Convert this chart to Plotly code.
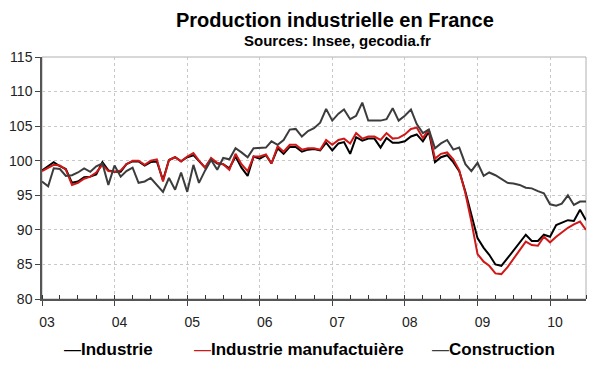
import plotly.graph_objects as go
import pandas as pd

# Monthly index values, Jan 2003 - Jul 2010
months = pd.date_range("2003-01-01", "2010-07-01", freq="MS")

industrie = [
    98.6, 99.3, 99.8, 99.2, 98.8, 96.8, 97.0, 97.6, 97.7, 98.0, 99.8, 98.6,
    98.4, 98.4, 99.5, 99.9, 99.9, 99.3, 99.8, 99.9, 97.2, 100.1, 100.5, 99.9,
    100.5, 100.8, 100.0, 99.0, 100.3, 99.6, 99.5, 98.9, 100.6, 99.0, 97.8, 100.6,
    100.3, 100.8, 99.6, 101.8, 101.0, 102.0, 102.0, 101.3, 101.6, 101.7, 101.5, 102.6,
    101.5, 102.5, 102.7, 101.0, 103.4, 102.9, 103.2, 103.2, 101.9, 103.3, 102.6, 102.6,
    102.8, 103.5, 103.8, 102.8, 104.2, 99.8, 100.5, 100.8, 99.8, 98.5, 95.5, 92.0,
    88.8, 87.4, 86.4, 85.0, 84.8, 85.9, 87.0, 88.3, 89.3, 88.4, 88.4, 89.3,
    89.0, 90.7, 91.0, 91.4, 91.3, 92.9, 91.4,
]

manufacturiere = [
    98.5, 99.0, 99.4, 99.3, 98.7, 96.5, 96.8, 97.4, 97.7, 98.3, 99.4, 98.5,
    98.4, 98.6, 99.5, 100.0, 100.0, 99.4, 100.0, 100.2, 97.0, 100.1, 100.5, 99.9,
    100.6, 101.1, 100.0, 99.0, 100.4, 99.7, 99.5, 98.7, 101.0, 99.5, 98.5, 100.6,
    100.6, 100.9, 99.6, 102.1, 101.3, 102.3, 102.3, 101.6, 101.8, 101.8, 101.6, 103.0,
    102.3, 103.0, 103.2, 102.5, 104.0, 103.2, 103.5, 103.5, 103.0, 104.0, 103.2, 103.3,
    103.8, 104.6, 104.8, 103.3, 104.5, 100.3, 101.0, 101.2, 100.2, 98.6, 95.3, 91.2,
    86.5, 85.4, 84.8, 83.7, 83.6, 84.6, 85.8, 87.2, 88.3, 87.8, 87.7, 89.0,
    88.2, 89.0, 89.6, 90.3, 90.8, 91.2, 90.0,
]

construction = [
    97.0, 96.3, 98.9, 98.8, 97.8, 97.9, 98.3, 98.9, 98.4, 99.2, 99.6, 96.5,
    99.3, 97.7, 98.5, 99.0, 96.8, 97.0, 97.5, 96.5, 95.5, 97.5, 95.8, 98.3,
    95.5, 99.4, 96.8, 98.6, 100.1, 98.7, 100.4, 100.2, 101.8, 101.2, 100.5, 101.8,
    101.8, 101.9, 102.8, 102.3, 103.0, 104.5, 104.6, 103.5, 104.3, 104.7, 105.5, 107.5,
    105.8, 106.8, 107.4, 106.0, 106.5, 108.4, 105.8, 105.8, 105.8, 106.0, 107.6, 105.8,
    106.5, 107.4, 105.3, 104.0, 104.5, 101.8, 102.5, 103.0, 101.6, 101.9, 99.5, 98.5,
    99.7, 97.8, 98.3, 97.9, 97.4, 96.8, 96.7, 96.5, 96.1, 96.0, 95.6, 95.3,
    93.7, 93.5, 93.8, 95.0, 93.6, 94.1, 94.1,
]

series_names = ["Industrie", "Industrie manufactuière", "Construction"]
series_colors = ["#000000", "#d01818", "#3c3c3c"]
series_values = [industrie, manufacturiere, construction]

FONT = "Liberation Sans, Arial, sans-serif"

fig = go.Figure()
for name, col, vals in zip(series_names, series_colors, series_values):
    fig.add_trace(go.Scatter(x=months, y=vals, mode="lines", name=name,
                             line=dict(color=col, width=2), showlegend=False))

# legend entries drawn as text: coloured dash + bold label
legend_x = [0.0368, 0.2757, 0.7132]
annotations = [
    dict(text="<b>Production industrielle en France</b>", xref="paper", yref="paper",
         x=0.5386, y=1.0, xanchor="center", yanchor="middle", yshift=37,
         showarrow=False, font=dict(family=FONT, size=20, color="#000")),
    dict(text="<b>Sources: Insee, gecodia.fr</b>", xref="paper", yref="paper",
         x=0.544, y=1.0, xanchor="center", yanchor="middle", yshift=17,
         showarrow=False, font=dict(family=FONT, size=15, color="#000")),
]
for lx, name, col in zip(legend_x, series_names, series_colors):
    annotations.append(dict(
        text=f"<span style='color:{col}'>—</span><b>{name}</b>",
        xref="paper", yref="paper", x=lx, y=0.0, yshift=-50,
        xanchor="left", yanchor="middle", showarrow=False,
        font=dict(family=FONT, size=17, color="#000")))

fig.update_layout(
    width=600, height=372,
    margin=dict(l=42, r=14, t=57, b=73, autoexpand=False),
    paper_bgcolor="white", plot_bgcolor="white",
    showlegend=False,
    annotations=annotations,
    shapes=[dict(type="rect", xref="paper", yref="paper", x0=0, x1=1, y0=0, y1=1,
                 line=dict(color="#b0b0b0", width=1), layer="below")],
)

fig.update_xaxes(
    type="date", range=[months[0], months[-1]], automargin=False,
    tick0="2003-01-01", dtick="M12", tickformat="%y",
    ticks="outside", ticklen=5, tickcolor="#444", tickwidth=1,
    showline=True, linecolor="#555", linewidth=1.5,
    showgrid=True, gridcolor="#c8c8c8", griddash="dot", gridwidth=1,
    minor=dict(tick0="2003-01-01", dtick="M3", ticks="inside", ticklen=4,
               tickcolor="#333", tickwidth=1, showgrid=False),
    tickfont=dict(family=FONT, size=14, color="#222"),
    ticklabelstandoff=4, ticklabelshift=5,
    zeroline=False, layer="above traces",
)
fig.update_yaxes(
    range=[80, 115], dtick=5, automargin=False,
    ticks="outside", ticklen=5, tickcolor="#444",
    showline=True, linecolor="#555", linewidth=1.5,
    showgrid=True, gridcolor="#c8c8c8", griddash="dot", gridwidth=1,
    tickfont=dict(family=FONT, size=14, color="#222"),
    zeroline=False,
)

fig.write_html("out.html", config={"displayModeBar": False},
               post_script="document.body.style.margin='0';document.body.style.overflow='hidden';")
